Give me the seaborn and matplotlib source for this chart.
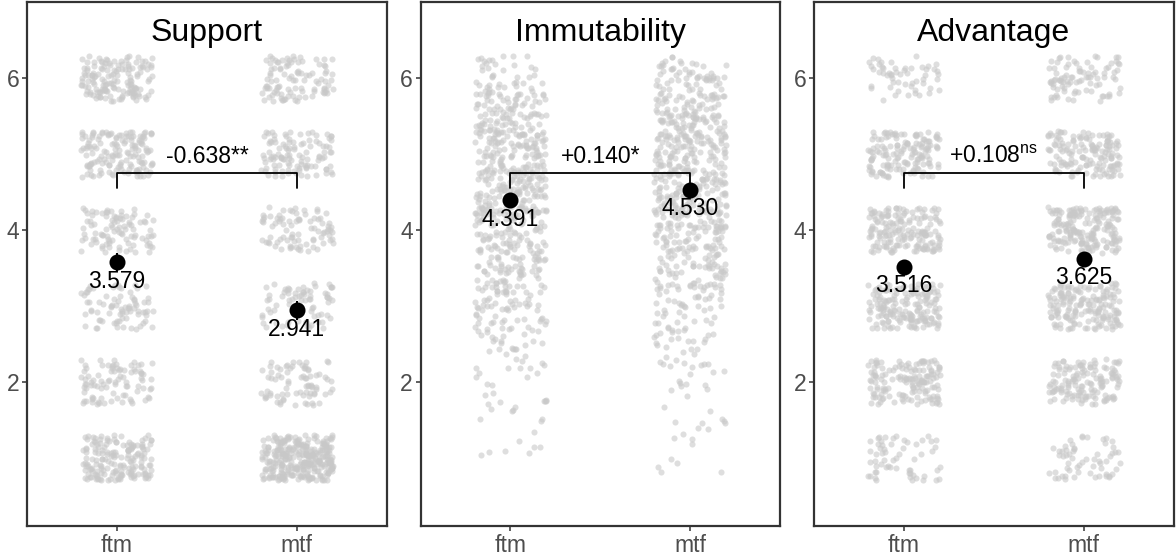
import numpy as np
import pandas as pd
import matplotlib
matplotlib.use("Agg")
import matplotlib.pyplot as plt
import seaborn as sns

# -----------------------------
# Data
# -----------------------------
GROUPS = ["ftm", "mtf"]
PANELS = ["Support", "Immutability", "Advantage"]

# single-item 1..6 scales: responses per level
LEVELS = [1, 2, 3, 4, 5, 6]
SUPPORT_FTM_N = [170, 90, 80, 95, 150, 150]
SUPPORT_MTF_N = [300, 80, 75, 85, 110, 100]
ADVANTAGE_FTM_N = [60, 150, 170, 170, 150, 55]
ADVANTAGE_MTF_N = [60, 140, 170, 190, 150, 90]

# multi-item scale (averaged, step 0.25)
IMMUT_LEVELS = [1.0, 1.25, 1.5, 1.75, 2.0, 2.25, 2.5, 2.75, 3.0, 3.25, 3.5,
                3.75, 4.0, 4.25, 4.5, 4.75, 5.0, 5.25, 5.5, 5.75, 6.0]
IMMUT_FTM_N = [4, 4, 6, 6, 9, 11, 15, 21, 30, 32, 38,
               42, 55, 50, 55, 55, 60, 50, 50, 40, 35]
IMMUT_MTF_N = [5, 5, 6, 5, 9, 10, 13, 19, 26, 28, 35,
               40, 50, 50, 55, 55, 62, 55, 55, 48, 45]

# group means and standard errors
MEANS_FTM = [3.579, 4.391, 3.516]
MEANS_MTF = [2.941, 4.530, 3.625]
SE_FTM = [0.12, 0.06, 0.06]
SE_MTF = [0.12, 0.06, 0.06]

# mtf - ftm differences and significance
DIFFS = [-0.638, 0.140, 0.108]
SIGNIF = ["**", "*", "ns"]

# -----------------------------
# Style
# -----------------------------
BRACKET_Y = 4.75
BRACKET_LEG = 0.19
FRAME = "#333333"
TEXT_GREY = "#4D4D4D"

sns.set_style("white")
plt.rcParams["font.family"] = ["Liberation Sans", "DejaVu Sans"]
plt.rcParams["mathtext.fontset"] = "custom"
plt.rcParams["mathtext.rm"] = "Liberation Sans"
plt.rcParams["mathtext.it"] = "Liberation Sans:italic"

np.random.seed(3)
rng = np.random.default_rng(11)


def expand(levels, counts, group):
    vals = np.repeat(levels, counts).astype(float)
    # vertical jitter, like geom_jitter(height = 0.3)
    vals = vals + rng.uniform(-0.3, 0.3, len(vals))
    return pd.DataFrame({"group": group, "value": vals})


raw = {
    "Support": pd.concat([expand(LEVELS, SUPPORT_FTM_N, "ftm"),
                          expand(LEVELS, SUPPORT_MTF_N, "mtf")]),
    "Immutability": pd.concat([expand(IMMUT_LEVELS, IMMUT_FTM_N, "ftm"),
                               expand(IMMUT_LEVELS, IMMUT_MTF_N, "mtf")]),
    "Advantage": pd.concat([expand(LEVELS, ADVANTAGE_FTM_N, "ftm"),
                            expand(LEVELS, ADVANTAGE_MTF_N, "mtf")]),
}

fig, axes = plt.subplots(1, 3, figsize=(11.76, 5.58), dpi=100)
fig.subplots_adjust(left=0.023, right=0.998, top=0.996, bottom=0.057, wspace=0.094)

for i, (ax, name) in enumerate(zip(axes, PANELS)):
    sns.stripplot(data=raw[name], x="group", y="value", order=GROUPS,
                  jitter=0.2, color="#c8c8c8", alpha=0.6, size=4.4,
                  linewidth=0, ax=ax, zorder=1)

    means = pd.DataFrame({"group": GROUPS, "mean": [MEANS_FTM[i], MEANS_MTF[i]],
                          "se": [SE_FTM[i], SE_MTF[i]]})
    ax.errorbar(x=[0, 1], y=means["mean"], yerr=means["se"], fmt="none",
                ecolor="black", elinewidth=1.5, capsize=0, zorder=3)
    sns.pointplot(data=means, x="group", y="mean", order=GROUPS, color="black",
                  linestyle="none", markers="o", markersize=9.5, errorbar=None,
                  ax=ax, zorder=4)

    for j, m in enumerate(means["mean"]):
        ax.annotate(f"{m:.3f}", (j, m), xytext=(0, -18.5), textcoords="offset points",
                    ha="center", va="baseline", fontsize=16.5, color="black", zorder=5)

    # bracket with difference
    ax.plot([0, 0, 1, 1],
            [BRACKET_Y - BRACKET_LEG, BRACKET_Y, BRACKET_Y, BRACKET_Y - BRACKET_LEG],
            color="black", lw=1.3, zorder=2)
    sig = SIGNIF[i] if SIGNIF[i] != "ns" else r"$^{\mathrm{ns}}$"
    ax.annotate(f"{DIFFS[i]:+.3f}{sig}", (0.5, BRACKET_Y), xytext=(0, 7.3),
                textcoords="offset points", ha="center", va="baseline",
                fontsize=16.5, color="black")

    ax.text(0.5, 0.926, name, transform=ax.transAxes, ha="center",
            va="baseline", fontsize=23, color="black")

    ax.set_xlim(-0.5, 1.5)
    ax.set_ylim(0.1, 7.0)
    ax.set_yticks([2, 4, 6])
    ax.set_xlabel("")
    ax.set_ylabel("")
    for sp in ax.spines.values():
        sp.set_visible(True)
        sp.set_color(FRAME)
        sp.set_linewidth(1.6)
    ax.tick_params(axis="both", which="major", length=3.6, width=1.1, color=FRAME,
                   labelsize=16.5, labelcolor=TEXT_GREY, pad=2,
                   left=True, bottom=True)

plt.savefig("out.png", dpi=100)
